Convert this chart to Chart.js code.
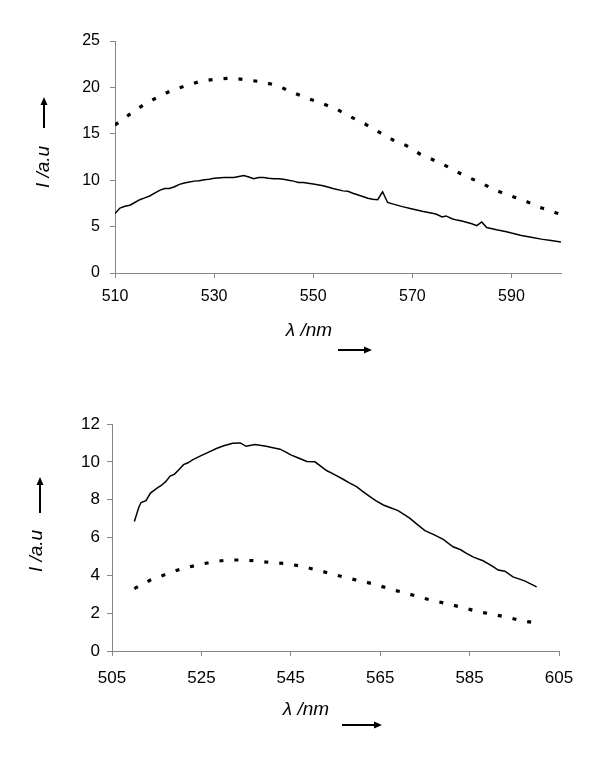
<!DOCTYPE html>
<html>
<head>
<meta charset="utf-8">
<script src="https://cdn.jsdelivr.net/npm/chart.js@4/dist/chart.umd.min.js"></script>
<style>
  body { margin: 0; background: #fff; }
  canvas { display: block; }
</style>
</head>
<body>
<canvas id="top-chart" width="602" height="360"></canvas>
<canvas id="bottom-chart" width="602" height="397"></canvas>
<script>
// top panel, solid curve
const topSolidWl = [510, 511, 512, 513, 514, 515, 516, 517, 518, 519, 520, 521, 522, 523, 524, 525, 526, 527, 528, 529,
  530, 532, 534, 535, 536, 537, 538, 539, 540, 541, 542, 543, 544, 545, 546, 547, 548, 550, 552, 554,
  556, 557, 558, 560, 561, 562, 563, 564, 565, 566, 568, 570, 572, 574, 575, 576, 576.8, 578, 579, 580,
  582, 583, 584, 585, 587, 589, 590, 592, 594, 596, 598, 600];
const topSolid = [6.4, 7.0, 7.2, 7.3, 7.6, 7.9, 8.1, 8.3, 8.6, 8.9, 9.1, 9.1, 9.3, 9.55, 9.7, 9.8, 9.9, 9.95, 10.05, 10.1,
  10.2, 10.3, 10.3, 10.4, 10.5, 10.35, 10.15, 10.3, 10.3, 10.2, 10.15, 10.15, 10.1, 10.0, 9.9, 9.75, 9.75, 9.6, 9.4, 9.1,
  8.85, 8.8, 8.6, 8.25, 8.05, 7.95, 7.9, 8.75, 7.6, 7.45, 7.15, 6.9, 6.65, 6.45, 6.3, 6.05, 6.15, 5.85, 5.7, 5.6,
  5.3, 5.1, 5.5, 4.9, 4.65, 4.45, 4.3, 4.05, 3.85, 3.65, 3.5, 3.35];

// top panel, dashed curve
const topDashWl = [510, 512.7, 515.7, 518.4, 521.5, 524.5, 527.5, 530.5, 533.6, 536.6, 539.6, 542.7, 545.7, 548.4, 551.4, 554.4,
  557.5, 560.5, 563.2, 566.2, 568.9, 571.6, 574.6, 577.7, 580.6, 583.7, 586.4, 589.7, 592.6, 595.7, 598.9, 600];
const topDash = [15.95, 17.0, 18.1, 18.9, 19.7, 20.2, 20.7, 20.9, 21.0, 20.8, 20.6, 20.2, 19.5, 18.9, 18.35, 17.75,
  16.85, 16.05, 15.2, 14.3, 13.7, 12.8, 12.1, 11.3, 10.45, 9.77, 9.0, 8.33, 7.8, 7.08, 6.5, 6.3];

// bottom panel, solid curve
const botSolidWl = [510, 511, 511.5, 512.6, 513.6, 515, 516, 517, 518, 519, 520, 521, 522, 523, 524.7, 526.5, 528.5, 530, 532, 533.7,
  535, 537, 539.5, 541, 542.6, 544, 545, 546.7, 548.6, 550.4, 553, 555, 556.7, 558, 559.7, 561, 562.7, 564, 565.7, 567,
  569, 571.6, 573, 575, 577, 579.1, 581.3, 583, 584.3, 586, 588, 590, 591.4, 592.9, 594.7, 597.3, 600];
const botSolid = [6.85, 7.6, 7.85, 7.95, 8.35, 8.6, 8.75, 8.95, 9.25, 9.35, 9.6, 9.85, 9.95, 10.1, 10.3, 10.5, 10.72, 10.85, 10.98, 11.0,
  10.82, 10.92, 10.82, 10.75, 10.67, 10.5, 10.37, 10.2, 10.02, 10.0, 9.54, 9.3, 9.08, 8.9, 8.69, 8.45, 8.16, 7.95, 7.72, 7.6,
  7.42, 7.02, 6.75, 6.36, 6.15, 5.9, 5.51, 5.35, 5.16, 4.95, 4.77, 4.5, 4.28, 4.22, 3.92, 3.71, 3.39];

// bottom panel, dashed curve
const botDashWl = [510, 513.6, 517.1, 520.6, 524, 527.3, 530.7, 533.7, 537, 540.4, 543.7, 546.7, 550.4, 553.8,
  557.1, 560.5, 563.8, 567.2, 570.3, 573.7, 577, 580.6, 583.7, 587.1, 590.4, 593.6, 596.9, 600];
const botDash = [3.3, 3.75, 4.06, 4.35, 4.54, 4.70, 4.81, 4.81, 4.77, 4.68, 4.63, 4.51, 4.31, 4.1,
  3.89, 3.71, 3.53, 3.27, 3.09, 2.86, 2.65, 2.47, 2.28, 2.07, 1.93, 1.77, 1.59, 1.48];

// tick labels
const topXTicks = [510, 530, 550, 570, 590];
const botXTicks = [505, 525, 545, 565, 585, 605];

const yLabel = 'I /a.u';
const xLabel = 'λ /nm';

function toPoints(xs, ys) {
  return xs.map((x, i) => ({ x: x, y: ys[i] }));
}

function drawArrow(ctx, x1, y1, x2, y2) {
  const ang = Math.atan2(y2 - y1, x2 - x1);
  const head = 8;
  ctx.lineWidth = 2;
  ctx.beginPath();
  ctx.moveTo(x1, y1);
  ctx.lineTo(x2 - Math.cos(ang) * head * 0.8, y2 - Math.sin(ang) * head * 0.8);
  ctx.stroke();
  ctx.beginPath();
  ctx.moveTo(x2, y2);
  ctx.lineTo(x2 - Math.cos(ang) * head - Math.sin(ang) * 3.5, y2 - Math.sin(ang) * head + Math.cos(ang) * 3.5);
  ctx.lineTo(x2 - Math.cos(ang) * head + Math.sin(ang) * 3.5, y2 - Math.sin(ang) * head - Math.cos(ang) * 3.5);
  ctx.closePath();
  ctx.fill();
}

// axis titles with the little arrows next to them
const axisNotes = {
  id: 'axisNotes',
  afterDraw(chart, args, o) {
    const ctx = chart.ctx;
    ctx.save();
    ctx.fillStyle = '#000';
    ctx.strokeStyle = '#000';
    ctx.font = 'italic 19px "Liberation Sans", Arial, sans-serif';
    ctx.textAlign = 'center';
    ctx.textBaseline = 'middle';
    ctx.save();
    ctx.translate(o.yText[0], o.yText[1]);
    ctx.rotate(-Math.PI / 2);
    ctx.fillText(yLabel, 0, 0);
    ctx.restore();
    ctx.fillText(xLabel, o.xText[0], o.xText[1]);
    drawArrow(ctx, o.yArrow[0], o.yArrow[1], o.yArrow[2], o.yArrow[3]);
    drawArrow(ctx, o.xArrow[0], o.xArrow[1], o.xArrow[2], o.xArrow[3]);
    ctx.restore();
  }
};

function makeChart(id, cfg) {
  const ctx = document.getElementById(id).getContext('2d');
  const axisColor = '#868686';
  return new Chart(ctx, {
    type: 'line',
    data: {
      datasets: [{
        data: cfg.solid,
        borderColor: '#000',
        borderWidth: 1.5,
        pointRadius: 0,
        tension: 0
      }, {
        data: cfg.dashed,
        borderColor: '#000',
        borderWidth: 3.2,
        borderDash: [4, 11],
        pointRadius: 0,
        tension: 0
      }]
    },
    options: {
      responsive: false,
      animation: false,
      layout: { padding: cfg.padding },
      plugins: {
        legend: { display: false },
        tooltip: { enabled: false },
        axisNotes: cfg.notes
      },
      scales: {
        x: {
          type: 'linear',
          min: cfg.xMin,
          max: cfg.xMax,
          afterBuildTicks: function (scale) {
            scale.ticks = cfg.xTicks.map(v => ({ value: v }));
          },
          afterFit: function (scale) { scale.height = cfg.xHeight; },
          grid: { drawOnChartArea: false, drawTicks: true, tickLength: 5, color: axisColor },
          border: { color: axisColor, width: 1 },
          ticks: {
            padding: cfg.xPad,
            color: '#000',
            maxRotation: 0,
            autoSkip: false,
            font: { family: '"Liberation Sans", Arial, sans-serif', size: cfg.fontSize }
          }
        },
        y: {
          min: 0,
          max: cfg.yMax,
          afterFit: function (scale) { scale.width = cfg.yWidth; },
          grid: { drawOnChartArea: false, drawTicks: true, tickLength: 5, color: axisColor },
          border: { color: axisColor, width: 1 },
          ticks: {
            stepSize: cfg.yStep,
            padding: cfg.yPad,
            color: '#000',
            font: { family: '"Liberation Sans", Arial, sans-serif', size: cfg.fontSize }
          }
        }
      }
    },
    plugins: [axisNotes]
  });
}

makeChart('top-chart', {
  solid: toPoints(topSolidWl, topSolid),
  dashed: toPoints(topDashWl, topDash),
  xMin: 510, xMax: 600, xTicks: topXTicks,
  yMax: 25, yStep: 5,
  padding: { top: 41, right: 41, left: 0, bottom: 0 },
  yWidth: 115, xHeight: 87,
  xPad: 9, yPad: 10, fontSize: 16,
  notes: { yText: [44, 167], yArrow: [44, 128, 44, 97], xText: [309, 331], xArrow: [338, 350, 372, 350] }
});

makeChart('bottom-chart', {
  solid: toPoints(botSolidWl, botSolid),
  dashed: toPoints(botDashWl, botDash),
  xMin: 505, xMax: 605, xTicks: botXTicks,
  yMax: 12, yStep: 2,
  padding: { top: 64, right: 43, left: 0, bottom: 0 },
  yWidth: 112, xHeight: 106,
  xPad: 12, yPad: 7, fontSize: 17,
  notes: { yText: [37, 191], yArrow: [40, 153, 40, 117], xText: [306, 350], xArrow: [342, 365, 382, 365] }
});
</script>
</body>
</html>
